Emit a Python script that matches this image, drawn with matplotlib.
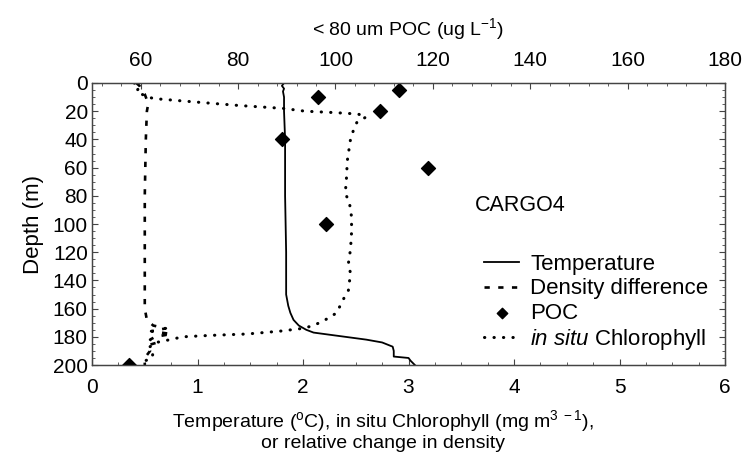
import matplotlib.pyplot as plt
from matplotlib.ticker import MultipleLocator

plt.rcParams['font.family'] = ['Liberation Sans', 'DejaVu Sans']
plt.rcParams['mathtext.fontset'] = 'custom'
plt.rcParams['mathtext.rm'] = 'Liberation Sans'
plt.rcParams['mathtext.it'] = 'Liberation Sans:italic'

# temperature profile (deg C)
temp_depth = [0, 2, 4, 6, 10, 20, 40, 80, 120, 150, 158, 163, 168, 172, 175,
              177, 179, 181, 182, 184, 187, 190, 194, 195, 197, 200]
temp = [1.82, 1.80, 1.82, 1.81, 1.82, 1.82, 1.83, 1.83, 1.84, 1.84, 1.86,
        1.88, 1.91, 1.96, 2.03, 2.10, 2.30, 2.50, 2.60, 2.75, 2.85, 2.86,
        2.86, 3.00, 3.02, 3.06]

# relative density change
dens_depth = [0, 2, 5, 8, 12, 16, 20, 40, 80, 120, 160, 168, 172, 174, 176,
              178, 180, 182, 184, 186, 190, 195, 200]
dens = [0.42, 0.45, 0.47, 0.50, 0.52, 0.53, 0.52, 0.51, 0.50, 0.50, 0.50,
        0.52, 0.58, 0.70, 0.56, 0.75, 0.60, 0.55, 0.62, 0.53, 0.55, 0.50, 0.50]

# in situ chlorophyll (mg m-3)
chl_depth = [0, 3, 6, 9, 11, 13, 16, 18, 20, 21, 22, 24, 28, 33, 40, 55, 70,
             78, 85, 95, 106, 118, 128, 135, 147, 155, 163, 168, 172, 174,
             176, 178, 179, 180, 182, 184, 187, 190, 195, 198, 200]
chl = [0.40, 0.45, 0.42, 0.50, 0.58, 0.90, 1.40, 1.81, 2.02, 2.30, 2.52,
       2.60, 2.51, 2.48, 2.45, 2.42, 2.41, 2.40, 2.44, 2.46, 2.46, 2.45,
       2.43, 2.45, 2.43, 2.37, 2.32, 2.21, 2.10, 2.00, 1.78, 1.47, 1.12,
       0.86, 0.74, 0.61, 0.55, 0.58, 0.57, 0.47, 0.45]

# < 80 um POC (ug/L)
poc_depth = [5, 10, 20, 40, 60, 100, 200]
poc = [113.0, 96.4, 109.1, 89.0, 119.0, 98.0, 57.6]

fig = plt.figure(figsize=(7.5, 4.66), dpi=100)
ax = fig.add_axes([0.1227, 0.2167, 0.844, 0.6052])

l1, = ax.plot(temp, temp_depth, color='black', lw=1.3, label='Temperature')
l2, = ax.plot(dens, dens_depth, color='black', lw=1.9, ls=(0, (2.0, 3.2)),
              label='Density difference')
l4, = ax.plot(chl, chl_depth, color='black', lw=2.2, ls=(0, (0.1, 3.0)),
              dash_capstyle='round', label=r'$\mathit{in\ situ}$ Chlorophyll')

ax.set_xlim(0, 6)
ax.set_ylim(200, 0)
ax.xaxis.set_major_locator(MultipleLocator(1))
ax.xaxis.set_minor_locator(MultipleLocator(0.25))
ax.yaxis.set_major_locator(MultipleLocator(20))
ax.yaxis.set_minor_locator(MultipleLocator(5))
ax.tick_params(which='both', direction='in', right=True, labelsize=15,
               color='#444444')
ax.tick_params(which='major', length=4, pad=3)
ax.tick_params(axis='x', which='major', pad=9)
ax.tick_params(which='minor', length=2.5)
ax.set_ylabel('Depth (m)', fontsize=16, labelpad=6)
ax.set_xlabel('Temperature ($^{\\rm o}$C), in situ Chlorophyll (mg m$^{3\\ -1}$),\n'
              'or relative change in density', fontsize=14, labelpad=8,
              linespacing=1.1)
ax.xaxis.label.set_x(0.46)

ax2 = ax.twiny()
l3 = ax2.scatter(poc, poc_depth, marker='D', s=50, color='black',
                 label='POC', clip_on=True)
ax2.set_xlim(50, 180)
ax2.xaxis.set_major_locator(MultipleLocator(20))
ax2.xaxis.set_minor_locator(MultipleLocator(4))
ax2.tick_params(which='both', direction='in', labelsize=15, color='#444444')
ax2.tick_params(which='major', length=4, pad=9)
ax2.tick_params(which='minor', length=2.5)
ax2.set_xlabel('< 80 um POC (ug L$^{-1}$)', fontsize=14, labelpad=12)

for a in (ax, ax2):
    for s in a.spines.values():
        s.set_color('#444444')
        s.set_linewidth(0.9)

ax.text(3.63, 87, 'CARGO4', fontsize=15.5, va='center')

ax.legend(handles=[l1, l2, l3, l4], loc='upper left',
          bbox_to_anchor=(0.645, 0.455), bbox_transform=fig.transFigure,
          frameon=False, fontsize=16, handlelength=1.6, handletextpad=0.5,
          labelspacing=0.15, borderpad=0, borderaxespad=0, markerscale=0.75)

fig.savefig('out.png', dpi=100)
